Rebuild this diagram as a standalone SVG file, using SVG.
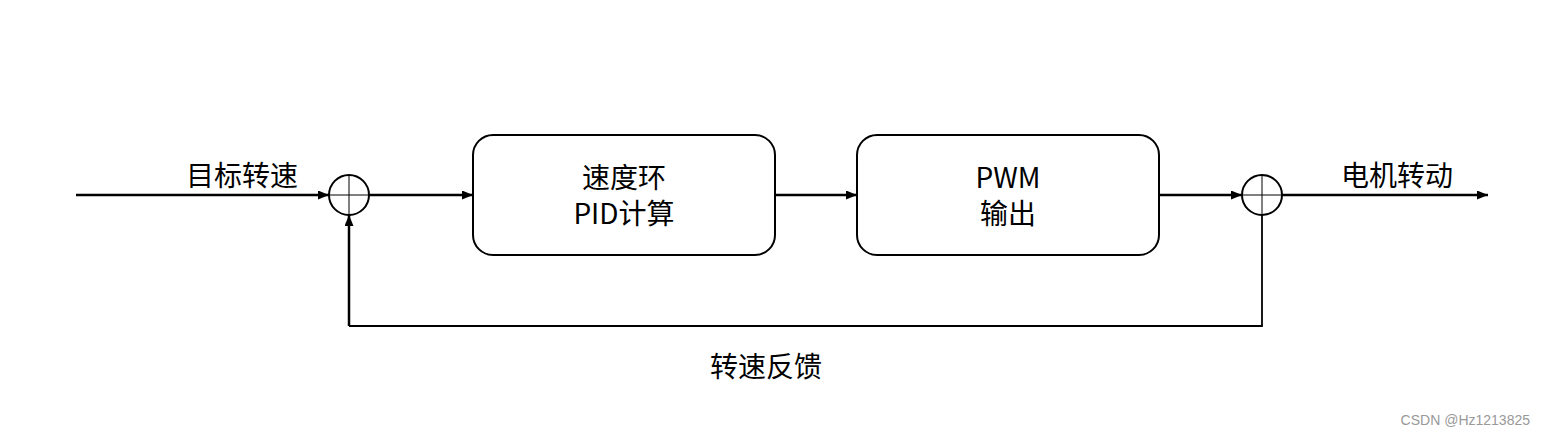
<svg xmlns="http://www.w3.org/2000/svg" width="1545" height="436" viewBox="0 0 1545 436">
<style>
.t{font-family:"Noto Sans CJK SC","Noto Sans",sans-serif;font-size:28px;fill:#000;text-anchor:middle}
.box{fill:#fff;stroke:#000;stroke-width:2}
.sum{fill:#fff;stroke:#000;stroke-width:2}
.x{stroke:#000;stroke-width:1}
.ln{fill:none;stroke:#000;stroke-width:2.5}
.fb{fill:none;stroke:#000;stroke-width:1.8}
.wm{font-family:"Liberation Sans",Arial,sans-serif;font-size:14px;fill:#999;text-anchor:end}
</style>
<defs>
<marker id="ah" markerWidth="11" markerHeight="9" refX="11" refY="4.5" orient="auto" markerUnits="userSpaceOnUse">
<path d="M0,0 L11,4.5 L0,9 Z" fill="#000"/>
</marker>
</defs>
<rect width="1545" height="436" fill="#fff"/>
<g id="connectors">
<line class="ln" x1="76" y1="195" x2="329" y2="195" marker-end="url(#ah)"/>
<line class="ln" x1="369" y1="195" x2="473" y2="195" marker-end="url(#ah)"/>
<line class="ln" x1="775" y1="195" x2="857" y2="195" marker-end="url(#ah)"/>
<line class="ln" x1="1159" y1="195" x2="1242" y2="195" marker-end="url(#ah)"/>
<line class="ln" x1="1282" y1="195" x2="1488" y2="195" marker-end="url(#ah)"/>
<polyline class="fb" points="1262,215 1262,326 349,326"/>
<line class="ln" x1="349" y1="326" x2="349" y2="215" marker-end="url(#ah)"/>
</g>
<g id="sum1">
<circle class="sum" cx="349" cy="195" r="20"/>
<line class="x" x1="329" y1="195" x2="369" y2="195"/>
<line class="x" x1="349" y1="175" x2="349" y2="215"/>
</g>
<g id="pid">
<rect class="box" x="473" y="135" width="302" height="120" rx="20"/>
<text class="t" x="624" y="188">速度环</text>
<text class="t" x="624" y="224">PID计算</text>
</g>
<g id="pwm">
<rect class="box" x="857" y="135" width="302" height="120" rx="20"/>
<text class="t" x="1008" y="188">PWM</text>
<text class="t" x="1008" y="224">输出</text>
</g>
<g id="sum2">
<circle class="sum" cx="1262" cy="195" r="20"/>
<line class="x" x1="1242" y1="195" x2="1282" y2="195"/>
<line class="x" x1="1262" y1="175" x2="1262" y2="215"/>
</g>
<g id="labels">
<text class="t" x="242" y="186">目标转速</text>
<text class="t" x="1397" y="186">电机转动</text>
<text class="t" x="766" y="377">转速反馈</text>
</g>
<text class="wm" x="1530" y="425">CSDN @Hz1213825</text>
</svg>
